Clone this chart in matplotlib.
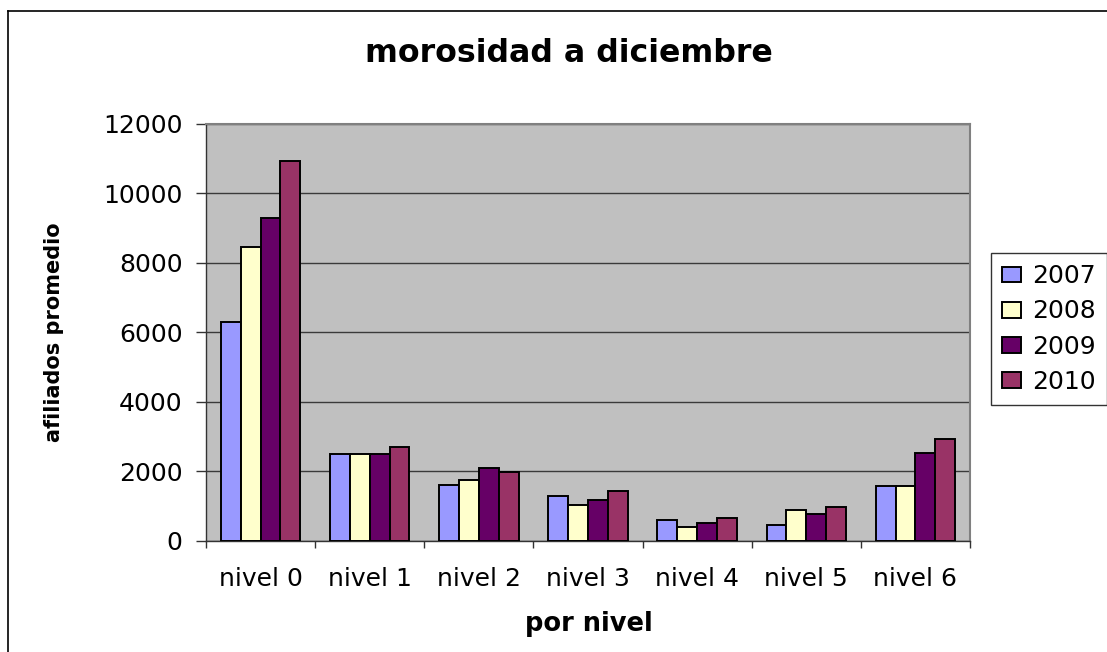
import matplotlib
matplotlib.use("Agg")
import matplotlib.pyplot as plt
import numpy as np
from matplotlib.lines import Line2D

# data
niveles = ["nivel 0", "nivel 1", "nivel 2", "nivel 3", "nivel 4", "nivel 5", "nivel 6"]
anios = ["2007", "2008", "2009", "2010"]
v2007 = [6300, 2500, 1600, 1300, 590, 450, 1570]
v2008 = [8450, 2500, 1750, 1030, 400, 900, 1570]
v2009 = [9270, 2500, 2110, 1170, 530, 770, 2520]
v2010 = [10930, 2700, 1980, 1450, 670, 990, 2920]
colores = ["#9999FF", "#FFFFCC", "#660066", "#993366"]

series = [v2007, v2008, v2009, v2010]

W, H = 1107, 652
fig = plt.figure(figsize=(W / 100, H / 100), dpi=100)
plt.rcParams['font.family'] = ['DejaVu Sans']

# plot area in pixel coords
left, right, top, bottom = 206, 970, 123.5, 541
ax = fig.add_axes([left / W, (H - bottom) / H, (right - left) / W, (bottom - top) / H])
ax.set_facecolor("#C0C0C0")

x = np.arange(len(niveles))
w = 1 / 5.5  # excel gap width 150
for i, (vals, c, lab) in enumerate(zip(series, colores, anios)):
    ax.bar(x + (i - 1.5) * w, vals, width=w, color=c, edgecolor="black",
           linewidth=1.4, label=lab, zorder=3)

ax.set_xlim(-0.5, len(niveles) - 0.5)
ax.set_ylim(0, 12000)
ax.set_yticks(np.arange(0, 12001, 2000))
ax.yaxis.grid(True, color="#3a3a3a", linewidth=1, zorder=1)
ax.set_axisbelow(True)

ax.set_xticks(x)
ax.set_xticklabels(niveles)
ax.set_xticks(np.arange(-0.5, len(niveles)), minor=True)
ax.tick_params(axis="x", which="major", length=0, pad=19, labelsize=18)
ax.tick_params(axis="x", which="minor", length=5, width=1, color="#333333")
ax.tick_params(axis="y", length=7, width=1, pad=10, labelsize=18, color="#333333")

for s in ["left", "bottom"]:
    ax.spines[s].set_color("#333333")
    ax.spines[s].set_linewidth(1)
for s in ["top", "right"]:
    ax.spines[s].set_color("#808080")
    ax.spines[s].set_linewidth(1.5)

ax.set_xlabel("por nivel", fontsize=18.5, fontweight="bold")
ax.xaxis.set_label_coords((589 - left) / (right - left), -(611 - bottom) / (bottom - top))
ax.set_ylabel("afiliados promedio", fontsize=15, fontweight="bold")
ax.yaxis.set_label_coords(-(left - 64) / (right - left), 0.5)

fig.text(569 / W, (H - 53) / H, "morosidad a diciembre", fontsize=22.8,
         fontweight="bold", ha="center", va="center")

leg = fig.legend(loc="upper left", bbox_to_anchor=(991 / W, (H - 253) / H),
                 fontsize=18, frameon=True, fancybox=False, edgecolor="black",
                 handlelength=0.75, handleheight=0.6, handletextpad=0.45,
                 labelspacing=0.45, borderpad=0.45, borderaxespad=0)
leg.get_frame().set_linewidth(1)

# outer chart border (only left and top visible in the reference)
fig.add_artist(Line2D([8 / W, 8 / W], [0, (H - 11) / H], color="black", linewidth=1.2))
fig.add_artist(Line2D([8 / W, 1], [(H - 11) / H, (H - 11) / H], color="black", linewidth=1.2))

fig.savefig("out.png", dpi=100)
